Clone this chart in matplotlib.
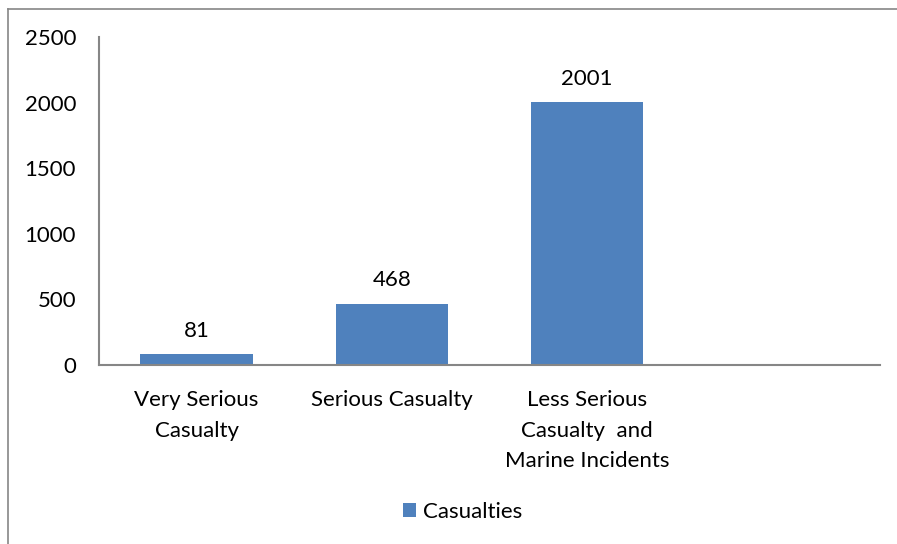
import matplotlib
matplotlib.use("Agg")
import matplotlib.pyplot as plt
from matplotlib.patches import Patch
from matplotlib.lines import Line2D

categories = ["Very Serious\nCasualty", "Serious Casualty", "Less Serious\nCasualty  and\nMarine Incidents", ""]
values = [81, 468, 2001, None]
series_name = "Casualties"
yticks = [0, 500, 1000, 1500, 2000, 2500]

plt.rcParams['font.family'] = ['Lato', 'DejaVu Sans']
W, H = 897, 544
FS = 16
fig = plt.figure(figsize=(W / 100, H / 100), dpi=100)

ax = fig.add_axes([99 / W, 179 / H, (880 - 99) / W, (365 - 37) / H])
bar_color = "#4F81BD"
xs = list(range(len(categories)))
for x, v in zip(xs, values):
    if v is None:
        continue
    ax.bar(x, v, width=0.575, color=bar_color)
    ax.annotate(str(v), (x, v), xytext=(0, 9.5), textcoords="offset points",
                ha="center", va="bottom", fontsize=FS, color="black")

ax.set_xlim(-0.5, len(categories) - 0.5)
ax.set_ylim(0, 2500)
ax.set_yticks(yticks)
ax.set_yticklabels([str(t) for t in yticks], fontsize=FS)
ax.set_xticks(xs)
ax.set_xticklabels(categories, fontsize=FS, linespacing=1.66, va="top")
ax.tick_params(axis="both", length=0)
ax.tick_params(axis="y", pad=16.5)
ax.tick_params(axis="x", pad=18)
for s in ["top", "right"]:
    ax.spines[s].set_visible(False)
for s in ["left", "bottom"]:
    ax.spines[s].set_color("#868686")
    ax.spines[s].set_linewidth(1.5)

handle = Patch(facecolor=bar_color, edgecolor="none")
fig.legend([handle], [series_name], loc="center", bbox_to_anchor=(463 / W, 1 - 512 / H),
           frameon=False, fontsize=FS, handlelength=0.55, handleheight=0.55, handletextpad=0.35)

# outer border (left and top edges visible)
fig.add_artist(Line2D([8 / W, 8 / W], [0, 1 - 9 / H], transform=fig.transFigure, color="#868686", lw=1.2))
fig.add_artist(Line2D([8 / W, 1], [1 - 9 / H, 1 - 9 / H], transform=fig.transFigure, color="#868686", lw=1.2))

fig.savefig("out.png", dpi=100)
